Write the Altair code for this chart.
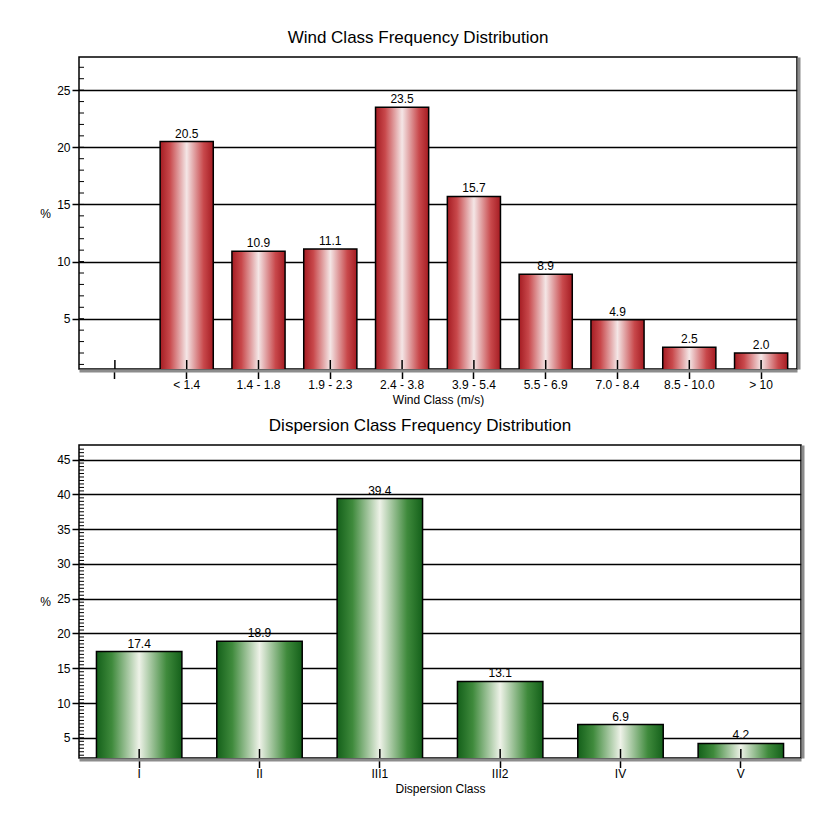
import altair as alt
import pandas as pd

FONT = "Liberation Sans"

# ---- data ----
wind_classes = ["< 1.4", "1.4 - 1.8", "1.9 - 2.3", "2.4 - 3.8", "3.9 - 5.4",
                "5.5 - 6.9", "7.0 - 8.4", "8.5 - 10.0", "> 10"]
wind_values = [20.5, 10.9, 11.1, 23.5, 15.7, 8.9, 4.9, 2.5, 2.0]
wind_domain = [" "] + wind_classes

disp_classes = ["I", "II", "III1", "III2", "IV", "V"]
disp_values = [17.4, 18.9, 39.4, 13.1, 6.9, 4.2]

wind_major = [5, 10, 15, 20, 25]
wind_minor = list(range(1, 28))
disp_major = [5, 10, 15, 20, 25, 30, 35, 40, 45]
disp_minor = [x / 2 for x in range(5, 94)]

red_grad = alt.Gradient(
    gradient="linear", x1=0, x2=1, y1=0, y2=0,
    stops=[alt.GradientStop(color="#a51c22", offset=0),
           alt.GradientStop(color="#c8484b", offset=0.18),
           alt.GradientStop(color="#f4e6e6", offset=0.5),
           alt.GradientStop(color="#c8484b", offset=0.82),
           alt.GradientStop(color="#a51c22", offset=1)])
green_grad = alt.Gradient(
    gradient="linear", x1=0, x2=1, y1=0, y2=0,
    stops=[alt.GradientStop(color="#14601a", offset=0),
           alt.GradientStop(color="#3f8a3c", offset=0.18),
           alt.GradientStop(color="#eef2e8", offset=0.5),
           alt.GradientStop(color="#3f8a3c", offset=0.82),
           alt.GradientStop(color="#14601a", offset=1)])


def panel(cats, domain, values, major, minor, ydom, width, height,
          grad, title, xtitle, pad_inner):
    df = pd.DataFrame({"cat": cats, "value": values,
                       "label": [f"{v:.1f}" for v in values]})
    ticks_df = pd.DataFrame({"cat": domain})
    minor_df = pd.DataFrame({"v": minor})

    xscale = alt.Scale(domain=domain, paddingInner=pad_inner,
                       paddingOuter=pad_inner / 2)
    yscale = alt.Scale(domain=ydom, zero=False, nice=False)

    xaxis = alt.Axis(title=xtitle, labelAngle=0, labelFont=FONT, labelFontSize=12,
                     labelColor="black", tickColor="black", tickSize=8, tickWidth=1.5,
                     domainColor="#8c8c8c", domainWidth=3, offset=1.5,
                     labelPadding=1, titleFont=FONT, titleFontSize=12,
                     titleFontWeight="normal", titleColor="black", titlePadding=4)
    yaxis = alt.Axis(title="%", values=major, labelFont=FONT, labelFontSize=12,
                     labelColor="black", tickColor="black", tickSize=7, tickWidth=1.5,
                     domain=False, grid=True, gridColor="black", gridWidth=1.5,
                     labelPadding=2, titleAngle=0, titleX=-34, titleY=height / 2,
                     titleAlign="center", titleBaseline="middle", titleFont=FONT,
                     titleFontSize=12, titleFontWeight="normal", titleColor="black")

    bars = alt.Chart(df).mark_bar(color=grad, stroke="black", strokeWidth=1.5,
                                  clip=True).encode(
        x=alt.X("cat:N", scale=xscale, axis=xaxis, sort=domain),
        y=alt.Y("value:Q", scale=yscale, axis=yaxis),
        y2=alt.datum(0),
    )
    text = alt.Chart(df).mark_text(font=FONT, fontSize=12, color="black",
                                   baseline="bottom", dy=-1).encode(
        x=alt.X("cat:N", scale=xscale, axis=xaxis, sort=domain),
        y=alt.Y("value:Q", scale=yscale, axis=None),
        text="label:N",
    )
    inner_ticks = alt.Chart(ticks_df).mark_rule(color="black", strokeWidth=1.5).encode(
        x=alt.X("cat:N", scale=xscale, axis=xaxis, sort=domain),
        y=alt.value(height - 9),
        y2=alt.value(height),
    )
    minor_ticks = alt.Chart(minor_df).mark_rule(color="black", strokeWidth=1).encode(
        y=alt.Y("v:Q", scale=yscale,
                axis=alt.Axis(orient="right", title=None, labels=False, ticks=False,
                              grid=False, domainColor="#8c8c8c", domainWidth=3,
                              offset=1.5)),
        x=alt.value(0),
        x2=alt.value(5),
    )
    return alt.layer(bars, text, inner_ticks, minor_ticks).resolve_axis(
        y="independent").properties(
        width=width, height=height,
        title=alt.TitleParams(title, font=FONT, fontSize=17, fontWeight="normal",
                              color="black", anchor="middle", dx=-20, offset=10),
    )


top = panel(wind_classes, wind_domain, wind_values, wind_major, wind_minor,
            [0.6, 27.9], 718, 312, red_grad,
            "Wind Class Frequency Distribution", "Wind Class (m/s)", 0.26)
bottom = panel(disp_classes, disp_classes, disp_values, disp_major, disp_minor,
               [2.1, 47.1], 722, 313, green_grad,
               "Dispersion Class Frequency Distribution", "Dispersion Class", 0.29)

chart = alt.vconcat(top, bottom, spacing=9).properties(
    padding={"left": 38, "top": 28, "right": 10, "bottom": 10},
    background="white",
).configure_view(stroke="black", strokeWidth=1.5)

chart.save("out.html", embed_options={"renderer": "svg", "actions": False})
